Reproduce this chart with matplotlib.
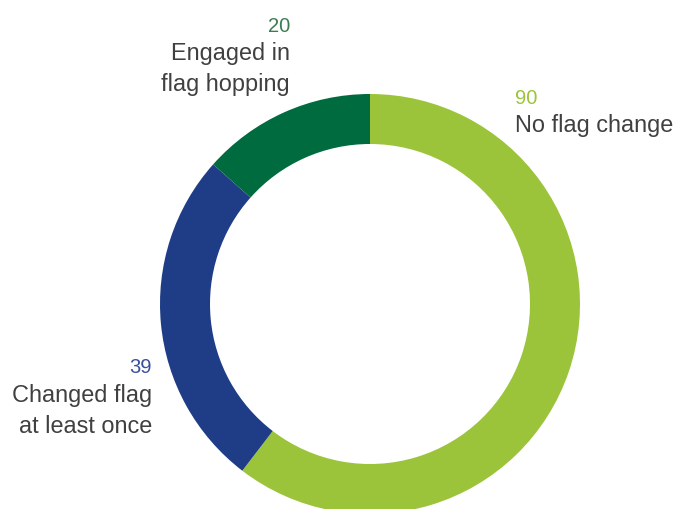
import matplotlib.pyplot as plt

# slice order: clockwise from 12 o'clock
counts = [90, 39, 20]
labels = ['No flag change', 'Changed flag\nat least once', 'Engaged in\nflag hopping']
slice_colors = ['#9bc43a', '#1f3d87', '#006b3f']
number_colors = ['#9bc43a', '#3a4f9c', '#3a7d50']

plt.rcParams['font.family'] = ['Liberation Sans', 'DejaVu Sans']

fig = plt.figure(figsize=(6.75, 5.1), dpi=100)
ax = fig.add_axes([0, 0, 1, 1])

# inverted y axis flips drawing direction, so counterclock=True goes clockwise on screen
ax.pie(counts, colors=slice_colors, startangle=-90, counterclock=True,
       center=(370, 305), radius=210, frame=True,
       wedgeprops=dict(width=50, linewidth=0))
ax.set_xlim(0, 675)
ax.set_ylim(510, 0)
ax.set_aspect('equal')
ax.axis('off')

text_color = '#404040'
# (x, y of number, alignment) for each slice label
spots = [(515, 98, 'left'), (152, 368, 'right'), (290, 26, 'right')]
for n, lab, nc, (x, y, ha) in zip(counts, labels, number_colors, spots):
    ax.text(x, y, str(n), color=nc, fontsize=14.5, ha=ha, va='center')
    ax.text(x, y + 16, lab, color=text_color, fontsize=16.9, ha=ha, va='top',
            linespacing=1.42)

fig.savefig('out.png', dpi=100)
